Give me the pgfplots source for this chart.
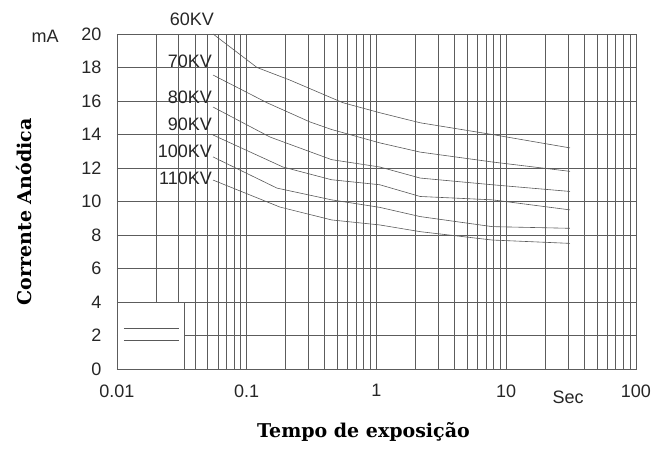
\documentclass[border=0pt]{standalone}
\usepackage{pgfplots}
\pgfplotsset{compat=1.18}
\usepackage{fontspec}
\setmainfont{Liberation Sans}
\newfontfamily\labfont{DejaVu Serif}
\definecolor{gridc}{gray}{0.36}
\definecolor{curvec}{gray}{0.35}
\begin{document}
\begin{tikzpicture}
\begin{semilogxaxis}[
  scale only axis, width=519pt, height=335pt,
  xmin=0.01, xmax=100, ymin=0, ymax=20,
  xtick={0.01,0.1,1,10,100}, xticklabels={0.01,0.1,1,10,100},
  minor xtick={0.02,0.03,0.04,0.05,0.06,0.07,0.08,0.09,0.2,0.3,0.4,0.5,0.6,0.7,0.8,0.9,2,3,4,5,6,7,8,9,20,30,40,50,60,70,80,90},
  ytick={0,2,...,20}, minor ytick={},
  grid=both,
  major grid style={gridc, line width=0.85pt},
  minor grid style={gridc, line width=0.85pt},
  axis line style={gridc, line width=0.85pt},
  major tick length=0pt, minor tick length=0pt,
  /pgf/number format/assume math mode=true,
  ticklabel style={font=\fontsize{18}{20}\selectfont, text=black!85},
  xticklabel style={yshift=-12pt},
  yticklabel style={xshift=-12pt},
  xlabel={Tempo de exposição},
  ylabel={Corrente Anódica},
  xlabel style={at={(axis description cs:0.475,-0.188)}, anchor=center, font=\labfont\bfseries\fontsize{19}{21}\selectfont},
  ylabel style={at={(axis description cs:-0.179,0.469)}, anchor=center, font=\labfont\bfseries\fontsize{19}{21}\selectfont},
  clip=false,
]
\addplot[curvec, line width=0.6pt] coordinates {(0.055,20) (0.12,18.0) (0.215,17.25) (0.55,15.9) (1.06,15.3) (2.17,14.7) (7.8,14.0) (31,13.2)};
\addplot[curvec, line width=0.6pt] coordinates {(0.055,17.55) (0.143,15.9) (0.307,14.75) (0.45,14.3) (1.06,13.5) (2.17,12.95) (7.8,12.36) (31,11.8)};
\addplot[curvec, line width=0.6pt] coordinates {(0.055,15.64) (0.151,13.85) (0.45,12.5) (1.06,12.06) (2.17,11.4) (7.8,11.0) (31,10.6)};
\addplot[curvec, line width=0.6pt] coordinates {(0.055,13.97) (0.19,12.06) (0.45,11.3) (1.06,11.0) (2.17,10.3) (7.8,10.1) (31,9.5)};
\addplot[curvec, line width=0.6pt] coordinates {(0.055,12.66) (0.171,10.8) (0.45,10.1) (1.06,9.65) (2.17,9.1) (7.8,8.5) (31,8.4)};
\addplot[curvec, line width=0.6pt] coordinates {(0.055,11.28) (0.18,9.67) (0.45,8.9) (1.06,8.6) (2.17,8.2) (7.8,7.7) (31,7.5)};
\draw[gridc, line width=0.85pt, fill=white] (axis cs:0.01,0) rectangle (axis cs:0.033,4);
\draw[curvec, line width=0.8pt] (axis cs:0.0113,2.45) -- (axis cs:0.030,2.45);
\draw[curvec, line width=0.8pt] (axis cs:0.0113,1.73) -- (axis cs:0.030,1.73);
\begin{scope}[font=\fontsize{18}{20}\selectfont, text=black!85]
\node[anchor=east, inner sep=0pt] at (axis cs:0.056,20.85) {60KV};
\node[anchor=east, inner sep=0pt] at (axis cs:0.054,18.4) {70KV};
\node[anchor=east, inner sep=0pt] at (axis cs:0.054,16.2) {80KV};
\node[anchor=east, inner sep=0pt] at (axis cs:0.054,14.6) {90KV};
\node[anchor=east, inner sep=0pt] at (axis cs:0.054,13.0) {100KV};
\node[anchor=east, inner sep=0pt] at (axis cs:0.054,11.4) {110KV};
\node[anchor=center, inner sep=0pt] at (axis cs:30,-1.68) {Sec};
\node[anchor=east, inner sep=0pt] at (axis cs:0.00357,19.85) {mA};
\end{scope}
\end{semilogxaxis}
\pgfresetboundingbox
\path[use as bounding box] (-117pt,-82pt) rectangle (542pt,369pt);
\end{tikzpicture}
\end{document}
